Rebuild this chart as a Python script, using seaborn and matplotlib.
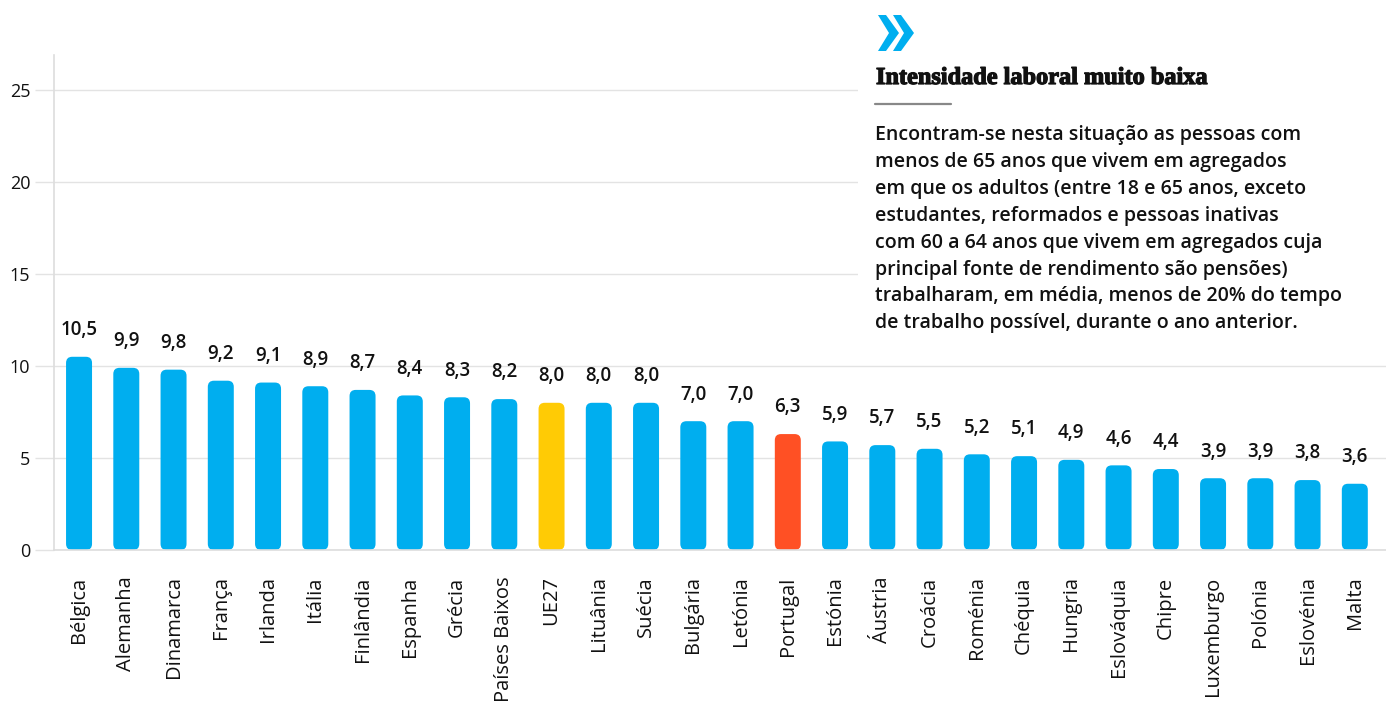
import matplotlib
matplotlib.use('Agg')
import matplotlib.pyplot as plt
import matplotlib.patheffects as pe
from matplotlib.patches import FancyBboxPatch, Rectangle, Polygon
from matplotlib.lines import Line2D
import seaborn as sns

# Data
countries = ['Bélgica', 'Alemanha', 'Dinamarca', 'França', 'Irlanda', 'Itália', 'Finlândia',
             'Espanha', 'Grécia', 'Países Baixos', 'UE27', 'Lituânia', 'Suécia', 'Bulgária',
             'Letónia', 'Portugal', 'Estónia', 'Áustria', 'Croácia', 'Roménia', 'Chéquia',
             'Hungria', 'Eslováquia', 'Chipre', 'Luxemburgo', 'Polónia', 'Eslovénia', 'Malta']
values = [10.5, 9.9, 9.8, 9.2, 9.1, 8.9, 8.7, 8.4, 8.3, 8.2, 8.0, 8.0, 8.0, 7.0,
          7.0, 6.3, 5.9, 5.7, 5.5, 5.2, 5.1, 4.9, 4.6, 4.4, 3.9, 3.9, 3.8, 3.6]
yticks = [0, 5, 10, 15, 20, 25]

title = 'Intensidade laboral muito baixa'
note_lines = [
    'Encontram-se nesta situação as pessoas com',
    'menos de 65 anos que vivem em agregados',
    'em que os adultos (entre 18 e 65 anos, exceto',
    'estudantes, reformados e pessoas inativas',
    'com 60 a 64 anos que vivem em agregados cuja',
    'principal fonte de rendimento são pensões)',
    'trabalharam, em média, menos de 20% do tempo',
    'de trabalho possível, durante o ano anterior.',
]

blue = '#00AEEF'
colors = {c: blue for c in countries}
colors['UE27'] = '#FFCB05'
colors['Portugal'] = '#FF5024'

sns.set_style('white')
plt.rcParams['font.family'] = ['Open Sans', 'DejaVu Sans']

W, H = 1386, 706
fig = plt.figure(figsize=(W / 100, H / 100), dpi=100)
ax = fig.add_axes([54 / W, 1 - 550 / H, (W - 54) / W, (550 - 55) / H])

sns.barplot(x=countries, y=values, hue=countries, palette=colors, legend=False,
            width=0.55, saturation=1, ax=ax)

# value labels
for cont in ax.containers:
    ax.bar_label(cont, fmt=lambda v: f'{v:.1f}'.replace('.', ','), padding=12,
                 fontsize=13.5, fontweight='semibold', color='#111111')

# rounded bars
for p in list(ax.patches):
    fb = FancyBboxPatch((p.get_x(), p.get_y()), p.get_width(), p.get_height(),
                        boxstyle='round,pad=0,rounding_size=0.13', mutation_aspect=2.57,
                        fc=p.get_facecolor(), ec='none', zorder=2)
    p.remove()
    ax.add_patch(fb)

ax.set_xlim(-0.53, 27.66)
ax.set_ylim(0, 26.9)
ax.set_yticks(yticks)
ax.yaxis.grid(True, color='#e3e3e3', lw=1)
ax.set_axisbelow(True)
for s in ['top', 'right']:
    ax.spines[s].set_visible(False)
for s in ['left', 'bottom']:
    ax.spines[s].set_color('#dddddd')
    ax.spines[s].set_linewidth(1.2)
ax.tick_params(axis='y', length=14, color='#e3e3e3', width=1, pad=3, labelsize=13,
               labelcolor='#111111', left=True)
ax.tick_params(axis='x', length=0, pad=19, labelsize=14.5, labelrotation=90,
               labelcolor='#111111')
ax.set_xlabel('')
ax.set_ylabel('')

# white panel behind the note
fig.patches.append(Rectangle((858 / W, 1 - 345 / H), (W - 858) / W, 345 / H,
                             transform=fig.transFigure, fc='white', ec='none', zorder=1))


def fp(x, y):
    return (x / W, 1 - y / H)


# chevron icon
chev1 = [(878, 15), (886, 15), (899, 33), (886, 51), (878, 51), (889, 33)]
chev2 = [(x + 15, y) for x, y in chev1]
for ch in (chev1, chev2):
    fig.patches.append(Polygon([fp(x, y) for x, y in ch], closed=True,
                               transform=fig.transFigure, fc=blue, ec='none', zorder=2))

fig.text(*fp(876, 84), title, fontsize=17.5, fontweight='bold',
         family=['Liberation Serif', 'DejaVu Serif'], color='#111111', zorder=3,
         va='baseline', ha='left',
         path_effects=[pe.withStroke(linewidth=0.9, foreground='#111111')])
fig.lines.append(Line2D([875 / W, 951 / W], [1 - 104 / H] * 2, transform=fig.transFigure,
                        color='#888888', lw=1.6, zorder=3))
for i, line in enumerate(note_lines):
    fig.text(*fp(875, 140 + 26.9 * i), line, fontsize=14, fontweight='semibold',
             color='#111111', va='baseline', ha='left', zorder=3)

fig.savefig('out.png', dpi=100)
